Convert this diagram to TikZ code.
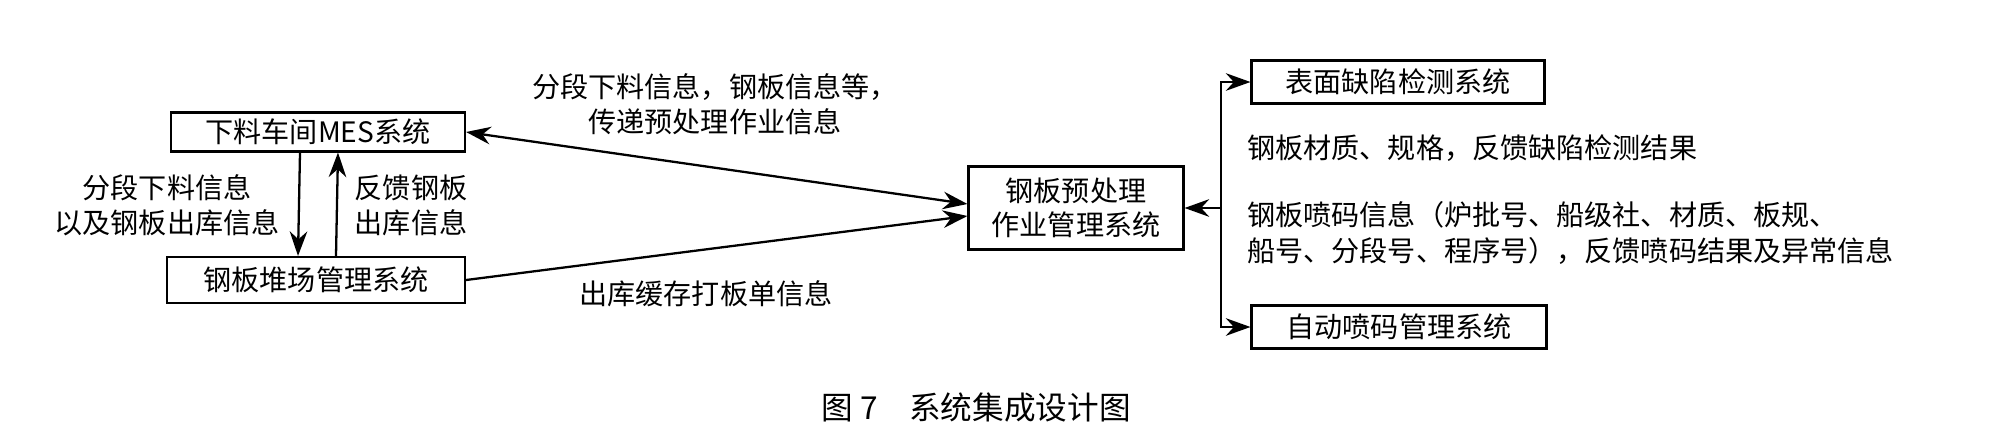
\documentclass[tikz,border=0pt]{standalone}
\usepackage{fontspec}
\setmainfont{Noto Sans CJK SC}
\usetikzlibrary{arrows.meta,positioning}
\def\px{0.02cm}
\tikzset{
    sysbox/.style={draw, line width=1.2pt, inner sep=0pt, font=\fontsize{16}{19}\selectfont},
    lbl/.style={font=\fontsize{16}{20}\selectfont, align=left, inner sep=0pt},
    arr/.style={line width=1.3pt, -{Stealth[length=14pt,width=10pt]}},
}
\begin{document}
\begin{tikzpicture}[x=0.02cm, y=-0.02cm]
    \useasboundingbox (0,0) rectangle (2013,433);
    % Boxes
    \node[sysbox, minimum width=294*\px, minimum height=39*\px] (mes) at (318,132) {下料车间MES系统};
    \node[sysbox, minimum width=298*\px, minimum height=46*\px] (yard) at (316,280) {钢板堆场管理系统};
    \node[sysbox, minimum width=215*\px, minimum height=83*\px, align=center] (pre) at (1076,208) {钢板预处理\\作业管理系统};
    \node[sysbox, minimum width=293*\px, minimum height=43*\px] (scan) at (1398,82) {表面缺陷检测系统};
    \node[sysbox, minimum width=295*\px, minimum height=43*\px] (code) at (1399,327) {自动喷码管理系统};
    \coordinate (hub) at (1221,208);

    % Connectors on the left
    \draw[arr] ([xshift=-18*\px]mes.south) -- ([xshift=-18*\px]yard.north);
    \draw[arr] ([xshift=20*\px]yard.north) -- ([xshift=20*\px]mes.south);
    \draw[arr, {Stealth[length=14pt,width=10pt]}-{Stealth[length=14pt,width=10pt]}] (mes.east) -- ([yshift=4*\px]pre.west);
    \draw[arr] (yard.east) -- ([yshift=-8*\px]pre.west);

    % Connectors on the right
    \draw[arr] (hub) -- (pre.east);
    \draw[arr] (hub) |- (scan.west);
    \draw[arr] (hub) |- (code.west);

    % Labels
    \node[lbl, align=center] (l1) at (167,205) {分段下料信息\\以及钢板出库信息};
    \node[lbl, align=center] (l2) at (411,205) {反馈钢板\\出库信息};
    \node[lbl, align=center] (l3) at (715,104) {分段下料信息，钢板信息等，\\传递预处理作业信息};
    \node[lbl] (l4) at (706,294) {出库缓存打板单信息};
    \node[lbl, anchor=west] (l5) at (1247,148) {钢板材质、规格，反馈缺陷检测结果};
    \node[lbl, anchor=west, text width=770*\px] (l6) at (1247,233) {钢板喷码信息（炉批号、船级社、材质、板规、\\船号、分段号、程序号），反馈喷码结果及异常信息};

    % Caption
    \node[font=\fontsize{18}{20}\selectfont] (cap) at (976,408) {图 7\quad 系统集成设计图};
\end{tikzpicture}
\end{document}
